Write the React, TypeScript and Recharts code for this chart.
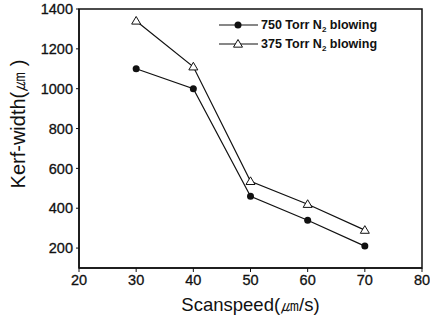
import React from "react";
import { LineChart, Line, XAxis, YAxis, ReferenceArea } from "recharts";

const speeds = [30, 40, 50, 60, 70];
const kerf750 = [1100, 1000, 460, 340, 210];
const kerf375 = [1340, 1110, 535, 420, 290];
const xTicks = [20, 30, 40, 50, 60, 70, 80];
const yTicks = [200, 400, 600, 800, 1000, 1200, 1400];

const data = speeds.map((s, i) => ({ speed: s, a: kerf750[i], b: kerf375[i] }));

const FONT = "Arial, 'Liberation Sans', Helvetica, sans-serif";
const tickStyle = { fontSize: 14.5, fill: "#111", fontFamily: FONT, stroke: "#111", strokeWidth: 0.3 };

function Triangle(props: any) {
  const { cx, cy } = props;
  if (cx == null || cy == null) return null;
  const s = 4.5;
  return (
    <polygon
      points={`${cx},${cy - s} ${cx - s},${cy + s * 0.7} ${cx + s},${cy + s * 0.7}`}
      fill="#fff"
      stroke="#111"
      strokeWidth={1}
    />
  );
}

function Legend() {
  const rows = [
    { label: "750 Torr N", y: 25, mark: "dot" },
    { label: "375 Torr N", y: 44, mark: "tri" },
  ];
  return (
    <g fontFamily={FONT} fontWeight="bold" fontSize={12.5} fill="#111">
      {rows.map((r) => (
        <g key={r.label}>
          <line x1={219} x2={258} y1={r.y} y2={r.y} stroke="#111" strokeWidth={1.2} />
          {r.mark === "dot" ? (
            <circle cx={238} cy={r.y} r={3.5} fill="#111" />
          ) : (
            <Triangle cx={238} cy={r.y} />
          )}
          <text x={261} y={r.y + 4}>
            {r.label}
            <tspan fontSize={8} dy={3}>2</tspan>
            <tspan dy={-3}> blowing</tspan>
          </text>
        </g>
      ))}
    </g>
  );
}

export default function App() {
  return (
    <div style={{ position: "absolute", left: 0, top: 0, background: "#fff" }}>
      <LineChart
        width={430}
        height={315}
        data={data}
        margin={{ top: 9, right: 8, left: 0, bottom: 0 }}
      >
        <XAxis
          dataKey="speed"
          type="number"
          domain={[20, 80]}
          ticks={xTicks}
          height={47}
          tick={tickStyle}
          tickSize={4}
          tickMargin={3}
          axisLine={{ stroke: "#111", strokeWidth: 1.5 }}
          tickLine={{ stroke: "#111" }}
          label={{
            value: "Scanspeed(㎛/s)",
            position: "insideBottom",
            offset: 4,
            fontSize: 18.5,
            fill: "#111",
            fontFamily: FONT,
          }}
        />
        <YAxis
          type="number"
          domain={[100, 1400]}
          ticks={yTicks}
          width={79}
          tick={tickStyle}
          tickSize={3}
          tickMargin={3}
          axisLine={{ stroke: "#111", strokeWidth: 1.5 }}
          tickLine={{ stroke: "#111" }}
          label={{
            content: () => (
              <text
                x={0}
                y={0}
                transform="translate(25, 124) rotate(-90)"
                textAnchor="middle"
                fontSize={20}
                fill="#111"
                fontFamily={FONT}
              >
                Kerf-width(㎛ )
              </text>
            ),
          }}
        />
        <ReferenceArea
          x1={20}
          x2={80}
          y1={100}
          y2={1400}
          fill="none"
          fillOpacity={0}
          stroke="#111"
          strokeWidth={1.5}
          ifOverflow="visible"
        />
        <Line
          dataKey="a"
          stroke="#111"
          strokeWidth={1.2}
          dot={{ r: 3.5, fill: "#111", stroke: "#111", strokeWidth: 0 }}
          isAnimationActive={false}
        />
        <Line
          dataKey="b"
          stroke="#111"
          strokeWidth={1.2}
          dot={<Triangle />}
          isAnimationActive={false}
        />
        <Legend />
      </LineChart>
    </div>
  );
}
